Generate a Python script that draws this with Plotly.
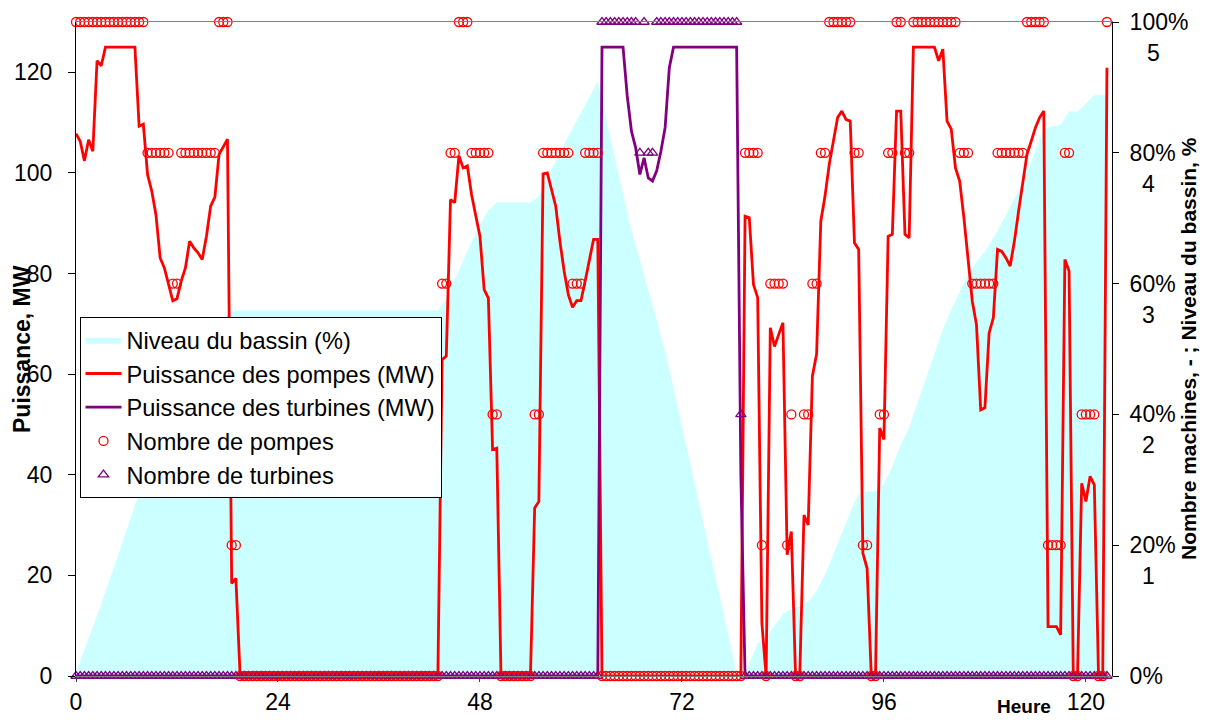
import plotly.graph_objects as go

# ---------------- data (half-hour steps) ----------------
heures = [i * 0.5 for i in range(246)]

puissance_pompes = (
    [107.8, 106.3, 102.4, 106.6, 104.3, 122.3, 121.3]
    + [125.0] * 8
    + [109.3, 109.7, 99.7, 96.4, 91.7, 83.1, 81.1, 77.8, 74.6, 75.0, 78.5, 81.1,
       86.4, 85.1, 84.1, 82.8, 87.4, 93.4, 95.2, 103.7, 105.2, 106.7, 18.4, 19.4]
    + [0.0] * 48
    + [62.9, 63.6, 94.7, 94.1, 103.4, 101.0, 101.4, 95.7, 91.5, 87.4, 76.8, 75.1, 45.0, 45.3]
    + [0.0] * 8
    + [33.4, 34.7, 99.8, 100.0, 96.7, 93.4, 86.4, 80.5, 75.8, 73.3, 74.6, 74.6, 78.5, 82.5, 86.8, 86.8]
    + [0.0] * 34
    + [91.4, 91.1, 77.8, 75.2, 10.5, 0.0, 69.2, 65.5, 67.9, 70.2, 24.1, 28.7, 0.0, 0.0,
       32.0, 30.0, 59.6, 64.0, 90.4, 95.4, 101.7, 106.3, 111.0, 112.3, 110.6, 110.3,
       86.1, 84.8, 24.4, 21.4, 0.0, 0.0, 49.3, 47.0, 87.4, 87.8, 112.3, 112.3, 87.8, 87.1]
    + [125.0] * 6
    + [122.3, 124.6, 110.3, 108.7, 101.0, 98.4, 91.1, 82.5, 74.5, 69.8, 52.9, 53.3,
       68.2, 71.2, 84.8, 84.4, 83.1, 81.5, 86.4, 92.4, 98.4, 103.7, 106.3, 109.0,
       111.0, 112.3, 9.8, 9.8, 9.8, 8.2, 82.8, 80.5, 0.0, 0.0, 38.3, 34.7, 39.7,
       38.0, 0.0, 0.0, 120.9]
)

puissance_turbines = (
    [0.0] * 125
    + [125.0] * 6
    + [115.3, 108.3, 105.0, 99.7, 103.0, 99.0, 98.4, 100.4, 104.3, 109.0, 120.9]
    + [125.0] * 16
    + [40.0]
    + [0.0] * 87
)

nombre_pompes = (
    [5] * 17 + [4] * 6 + [3] * 2 + [4] * 9 + [5] * 3 + [1] * 2 + [0] * 48
    + [3] * 2 + [4] * 2 + [5] * 3 + [4] * 5 + [2] * 2 + [0] * 8
    + [2] * 2 + [4] * 7 + [3] * 3 + [4] * 4 + [0] * 34
    + [4] * 4 + [1] + [0] + [3] * 4 + [1] + [2] + [0] * 2 + [2] * 2 + [3] * 2
    + [4] * 2 + [5] * 6 + [4] * 2 + [1] * 2 + [0] * 2 + [2] * 2 + [4] * 2
    + [5] * 2 + [4] * 2 + [5] * 11 + [4] * 3 + [3] * 6 + [4] * 7 + [5] * 5
    + [1] * 4 + [4] * 2 + [0] * 2 + [2] * 4 + [0] * 2 + [5]
)

nombre_turbines = (
    [0] * 125 + [5] * 9 + [4] + [5] + [4] * 2 + [5] * 20 + [2] + [0] * 87
)

niveau_bassin = (
    [0.5, 2.2, 3.9, 5.6, 7.3, 9.1, 11.0, 12.9, 14.8, 16.7, 18.6, 20.5, 22.4, 24.3,
     26.2, 27.9, 29.5, 31.0, 32.4, 33.8, 35.0, 36.2, 37.3, 38.4, 39.5, 40.6, 41.8,
     43.1, 44.3, 45.5, 46.7, 48.0, 49.4, 50.8, 52.3, 53.8, 55.3, 55.6, 55.9]
    + [55.9] * 48
    + [56.8, 57.7, 59.1, 60.5, 62.0, 63.5, 65.0, 66.4, 67.7, 69.0, 70.1, 71.2, 71.8, 72.4]
    + [72.4] * 8
    + [72.9, 73.4, 74.7, 76.1, 77.5, 78.8, 80.1, 81.3, 82.5, 83.8, 85.1, 86.3, 87.5,
       88.7, 89.9, 90.9]
    + [88.0, 85.1, 82.2, 79.3, 76.4, 73.5, 70.8, 68.3, 65.9, 63.6, 61.3, 59.0, 56.8,
       54.5, 52.1, 49.6, 46.9, 44.0, 41.1, 38.2, 35.3, 32.4, 29.5, 26.6, 23.7, 20.8,
       17.9, 15.0, 12.1, 9.2, 6.3, 3.4, 0.5, 0.0]
    + [0.5, 2.0, 3.5, 5.0, 5.6, 5.9, 6.8, 7.7, 8.6, 9.5, 9.9, 10.3, 10.5, 10.6, 11.0,
       11.4, 12.2, 13.0, 14.3, 15.5, 17.0, 18.6, 20.3, 22.0, 23.7, 25.3, 26.6, 27.8,
       28.1, 28.2, 28.2, 28.2, 28.8, 29.4, 30.7, 32.0, 33.7, 35.4, 36.7, 38.0, 39.9,
       41.8, 43.7, 45.6, 47.5, 49.4, 51.2, 53.0, 54.6, 56.0, 57.4, 58.8, 60.1, 61.3,
       62.4, 63.3, 64.1, 64.9, 65.9, 66.9, 68.1, 69.3, 70.5, 71.7, 72.9, 74.2, 75.6,
       77.0, 78.6, 80.3, 82.0, 83.7, 83.9, 84.0, 84.2, 84.3, 85.3, 86.3, 86.3, 86.3,
       86.9, 87.5, 88.2, 88.8, 88.8, 88.8, 88.8]
)

x_ticks = [0, 24, 48, 72, 96, 120]
mw_ticks = [0, 20, 40, 60, 80, 100, 120]
pct_ticks = [0, 20, 40, 60, 80, 100]
pct_labels = ["0%", "20%", "40%", "60%", "80%", "100%"]
machine_ticks = [1, 2, 3, 4, 5]

FONT = "Liberation Sans, Arial, sans-serif"
RED = "#FF0000"
PURPLE = "#800080"
CYAN = "#CCFFFF"
FS = 23

W, H = 1206, 720
# plot area (window pixels): x 76..1112, y 22..676
PL, PR, PT, PB = 76, 1112, 22, 676
PW, PH = PR - PL, PB - PT

fig = go.Figure()

fig.add_trace(go.Scatter(
    x=heures, y=niveau_bassin, yaxis="y", mode="lines",
    fill="tozeroy", fillcolor=CYAN, line=dict(width=0, color=CYAN),
    name="Niveau du bassin (%)", legendrank=1))

fig.add_trace(go.Scatter(
    x=heures, y=puissance_pompes, yaxis="y2", mode="lines",
    line=dict(color=RED, width=2.8), name="Puissance des pompes (MW)", legendrank=2))

fig.add_trace(go.Scatter(
    x=heures, y=puissance_turbines, yaxis="y2", mode="lines",
    line=dict(color=PURPLE, width=2.8), name="Puissance des turbines (MW)", legendrank=3))

fig.add_trace(go.Scatter(
    x=heures, y=nombre_turbines, yaxis="y3", mode="markers", cliponaxis=False,
    marker=dict(symbol="triangle-up-open", size=9, color=PURPLE, line=dict(width=1.3)),
    name="Nombre de turbines", legendrank=5))

fig.add_trace(go.Scatter(
    x=heures, y=nombre_pompes, yaxis="y3", mode="markers", cliponaxis=False,
    marker=dict(symbol="circle-open", size=9, color=RED, line=dict(width=1.3)),
    name="Nombre de pompes", legendrank=4))

annotations = [
    dict(text="<b>Puissance, MW</b>", xref="paper", yref="paper", x=(22 - PL) / PW, y=0.5,
         textangle=-90, showarrow=False, font=dict(size=FS, family=FONT, color="black"),
         xanchor="center", yanchor="middle"),
    dict(text="<b>Nombre machines, - ; Niveau du bassin, %</b>", xref="paper", yref="paper",
         x=(1188 - PL) / PW, y=0.5, textangle=-90, showarrow=False,
         font=dict(size=21, family=FONT, color="black"), xanchor="center", yanchor="middle"),
    dict(text="<b>Heure</b>", xref="paper", yref="paper", x=(1024 - PL) / PW,
         y=-(707 - PB) / PH, showarrow=False, font=dict(size=19, family=FONT, color="black"),
         xanchor="center", yanchor="middle"),
]
for m in machine_ticks:
    annotations.append(dict(
        text=str(m), xref="paper", yref="y3",
        x=((1153 if m == 5 else 1148) - PL) / PW,
        y=m, yshift=-31, showarrow=False, xanchor="center", yanchor="middle",
        font=dict(size=FS, family=FONT, color="black")))

fig.update_layout(
    width=W, height=H,
    margin=dict(l=PL, r=W - PR, t=PT, b=H - PB),
    paper_bgcolor="white", plot_bgcolor="white",
    font=dict(family=FONT, size=FS, color="black"),
    showlegend=True,
    legend=dict(x=(79.5 - PL) / PW, y=(PB - 317) / PH, xanchor="left", yanchor="top",
                bgcolor="white", bordercolor="black", borderwidth=1, itemwidth=36,
                font=dict(size=23.6, family=FONT, color="black"), tracegroupgap=0),
    xaxis=dict(range=[0, 123.1], tickvals=x_ticks, ticks="outside", ticklen=5,
               tickcolor="#404040", showline=True, linecolor="#808080", linewidth=1,
               mirror=True, showgrid=False, zeroline=False, automargin=False,
               tickfont=dict(size=FS, family=FONT, color="black")),
    yaxis=dict(range=[0, 100], side="right", tickvals=pct_ticks, ticktext=pct_labels,
               ticks="outside", ticklen=6, tickcolor="black", showline=True,
               linecolor="black", linewidth=1, showgrid=False, zeroline=False,
               ticklabelstandoff=6, automargin=False,
               tickfont=dict(size=FS, family=FONT, color="black")),
    yaxis2=dict(range=[0, 130], side="left", overlaying="y", tickvals=mw_ticks,
                ticks="outside", ticklen=7, tickcolor="black", showline=True,
                linecolor="black", linewidth=1, showgrid=False, zeroline=False,
                ticklabelstandoff=11, automargin=False,
                tickfont=dict(size=FS, family=FONT, color="black")),
    yaxis3=dict(range=[0, 5], overlaying="y", visible=False, showgrid=False,
                zeroline=False, automargin=False),
    annotations=annotations,
)

# remove the default 8 px page margin so the 1206x720 figure fills the window exactly
fig.write_html(
    "out.html",
    config={"displayModeBar": False},
    post_script="document.body.style.margin='0px';"
                "document.documentElement.style.overflow='hidden';"
                "document.body.style.overflow='hidden';",
)
